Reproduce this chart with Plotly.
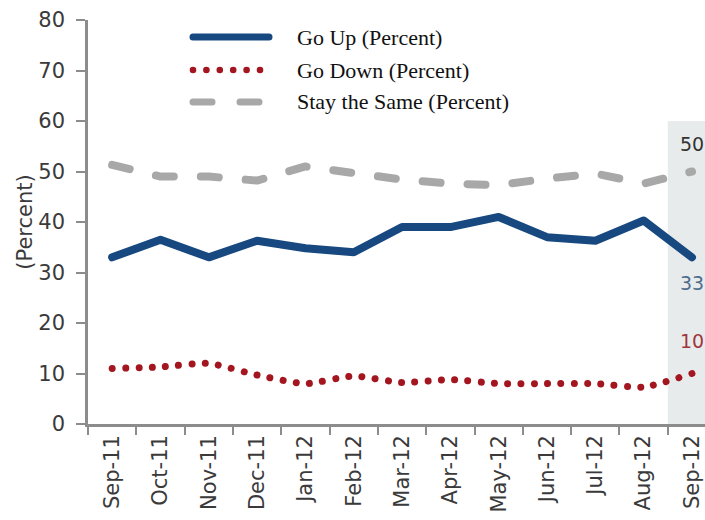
import plotly.graph_objects as go

# Monthly survey: expected direction of prices
months = ["Sep-11", "Oct-11", "Nov-11", "Dec-11", "Jan-12", "Feb-12", "Mar-12",
          "Apr-12", "May-12", "Jun-12", "Jul-12", "Aug-12", "Sep-12"]
go_up = [33, 36.5, 33, 36.3, 34.8, 34, 39, 39, 41, 37, 36.3, 40.3, 33]
go_down = [11, 11.3, 12, 9.7, 8, 9.5, 8.2, 8.8, 8, 8, 8, 7.3, 10]
stay_same = [51.3, 49, 49, 48.2, 51, 49.8, 48.4, 47.6, 47.3, 48.6, 49.6, 47.6, 50]

y_ticks = [0, 10, 20, 30, 40, 50, 60, 70, 80]

BLUE = "#17487f"
RED = "#a3161f"
GREY = "#a8a8a8"
AXIS = "#8c8c8c"
TEXT = "#3a3a3a"

W, H = 705, 520
L, R, T, B = 88, 0, 20, 96
PW, PH = W - L - R, H - T - B


def px_x(p):
    return (p - L) / PW


def px_y(p):
    return (H - B - p) / PH


fig = go.Figure()

fig.add_trace(go.Scatter(
    x=months, y=stay_same, mode="lines", name="Stay the Same (Percent)",
    line=dict(color=GREY, width=8, dash="26px,19px"), showlegend=False))
fig.add_trace(go.Scatter(
    x=months, y=go_up, mode="lines", name="Go Up (Percent)",
    line=dict(color=BLUE, width=8), showlegend=False))
fig.add_trace(go.Scatter(
    x=months, y=go_down, mode="lines", name="Go Down (Percent)",
    line=dict(color=RED, width=7, dash="6.5px,6.5px", shape="spline", smoothing=0.6),
    showlegend=False))

# shaded latest month
fig.add_shape(type="rect", xref="x", yref="y", x0=11.5, x1=12.6, y0=0, y1=60,
              fillcolor="#e8ebec", line=dict(width=0), layer="below")

# end-of-series value labels
for vals, col, ys in ((stay_same, "#333333", 28), (go_up, "#4f6d8c", -26), (go_down, "#a0373c", 33)):
    v = vals[-1]
    fig.add_annotation(x=months[-1], y=v, text=f"{v:g}", showarrow=False,
                       xanchor="left", xshift=-14, yshift=ys,
                       font=dict(family="DejaVu Sans", size=19, color=col))

# legend block
rows = [(37, "Go Up (Percent)"), (70, "Go Down (Percent)"), (102, "Stay the Same (Percent)")]
fig.add_shape(type="line", xref="paper", yref="paper", x0=px_x(193), x1=px_x(269),
              y0=px_y(rows[0][0]), y1=px_y(rows[0][0]), line=dict(color=BLUE, width=7))
for k in range(6):
    cx = 193 + k * 13.4
    fig.add_shape(type="circle", xref="paper", yref="paper",
                  x0=px_x(cx - 3.3), x1=px_x(cx + 3.3),
                  y0=px_y(rows[1][0] + 3.3), y1=px_y(rows[1][0] - 3.3),
                  fillcolor=RED, line=dict(width=0))
for a, b in ((193, 212), (240, 259)):
    fig.add_shape(type="line", xref="paper", yref="paper", x0=px_x(a), x1=px_x(b),
                  y0=px_y(rows[2][0]), y1=px_y(rows[2][0]), line=dict(color=GREY, width=7))
for yy, label in rows:
    fig.add_annotation(xref="paper", yref="paper", x=px_x(295), y=px_y(yy), text=label,
                       showarrow=False, xanchor="left", yanchor="middle",
                       font=dict(family="Liberation Serif", size=22, color="#111111"))

fig.update_layout(
    width=W, height=H,
    margin=dict(l=L, r=R, t=T, b=B, pad=0),
    plot_bgcolor="white", paper_bgcolor="white",
    font=dict(family="DejaVu Sans", size=20, color=TEXT),
)
fig.update_xaxes(
    type="category", categoryorder="array", categoryarray=months,
    range=[-0.5, 12.27], tickangle=-90, tickson="boundaries",
    ticks="outside", ticklen=8, tickwidth=2, tickcolor=AXIS,
    showline=True, linecolor=AXIS, linewidth=2.5, showgrid=False, zeroline=False,
    tickfont=dict(family="DejaVu Sans", size=21, color=TEXT),
)
fig.update_yaxes(
    range=[0, 80], tickvals=y_ticks, ticks="outside", ticklen=9, tickwidth=2,
    tickcolor=AXIS, showline=True, linecolor=AXIS, linewidth=2.5,
    showgrid=False, zeroline=False, ticklabelstandoff=7,
    tickfont=dict(family="DejaVu Sans", size=21, color=TEXT),
    title=dict(text="(Percent)", standoff=0,
               font=dict(family="DejaVu Sans", size=21, color=TEXT)),
)

# rounded line ends / joins, round dots for the "Go Down" series
round_js = """
var gd = document.getElementById('{plot_id}');
gd.querySelectorAll('.scatterlayer .js-line, .shapelayer path').forEach(function (p) {
  p.style.strokeLinecap = 'round';
  p.style.strokeLinejoin = 'round';
});
var tr = gd.querySelectorAll('.scatterlayer .trace');
if (tr.length === 3) {
  tr[0].querySelector('.js-line').style.strokeDasharray = '18px,27px';
  tr[2].querySelector('.js-line').style.strokeDasharray = '0.01px,13.3px';
}
"""

fig.write_html("out.html", post_script=round_js)
